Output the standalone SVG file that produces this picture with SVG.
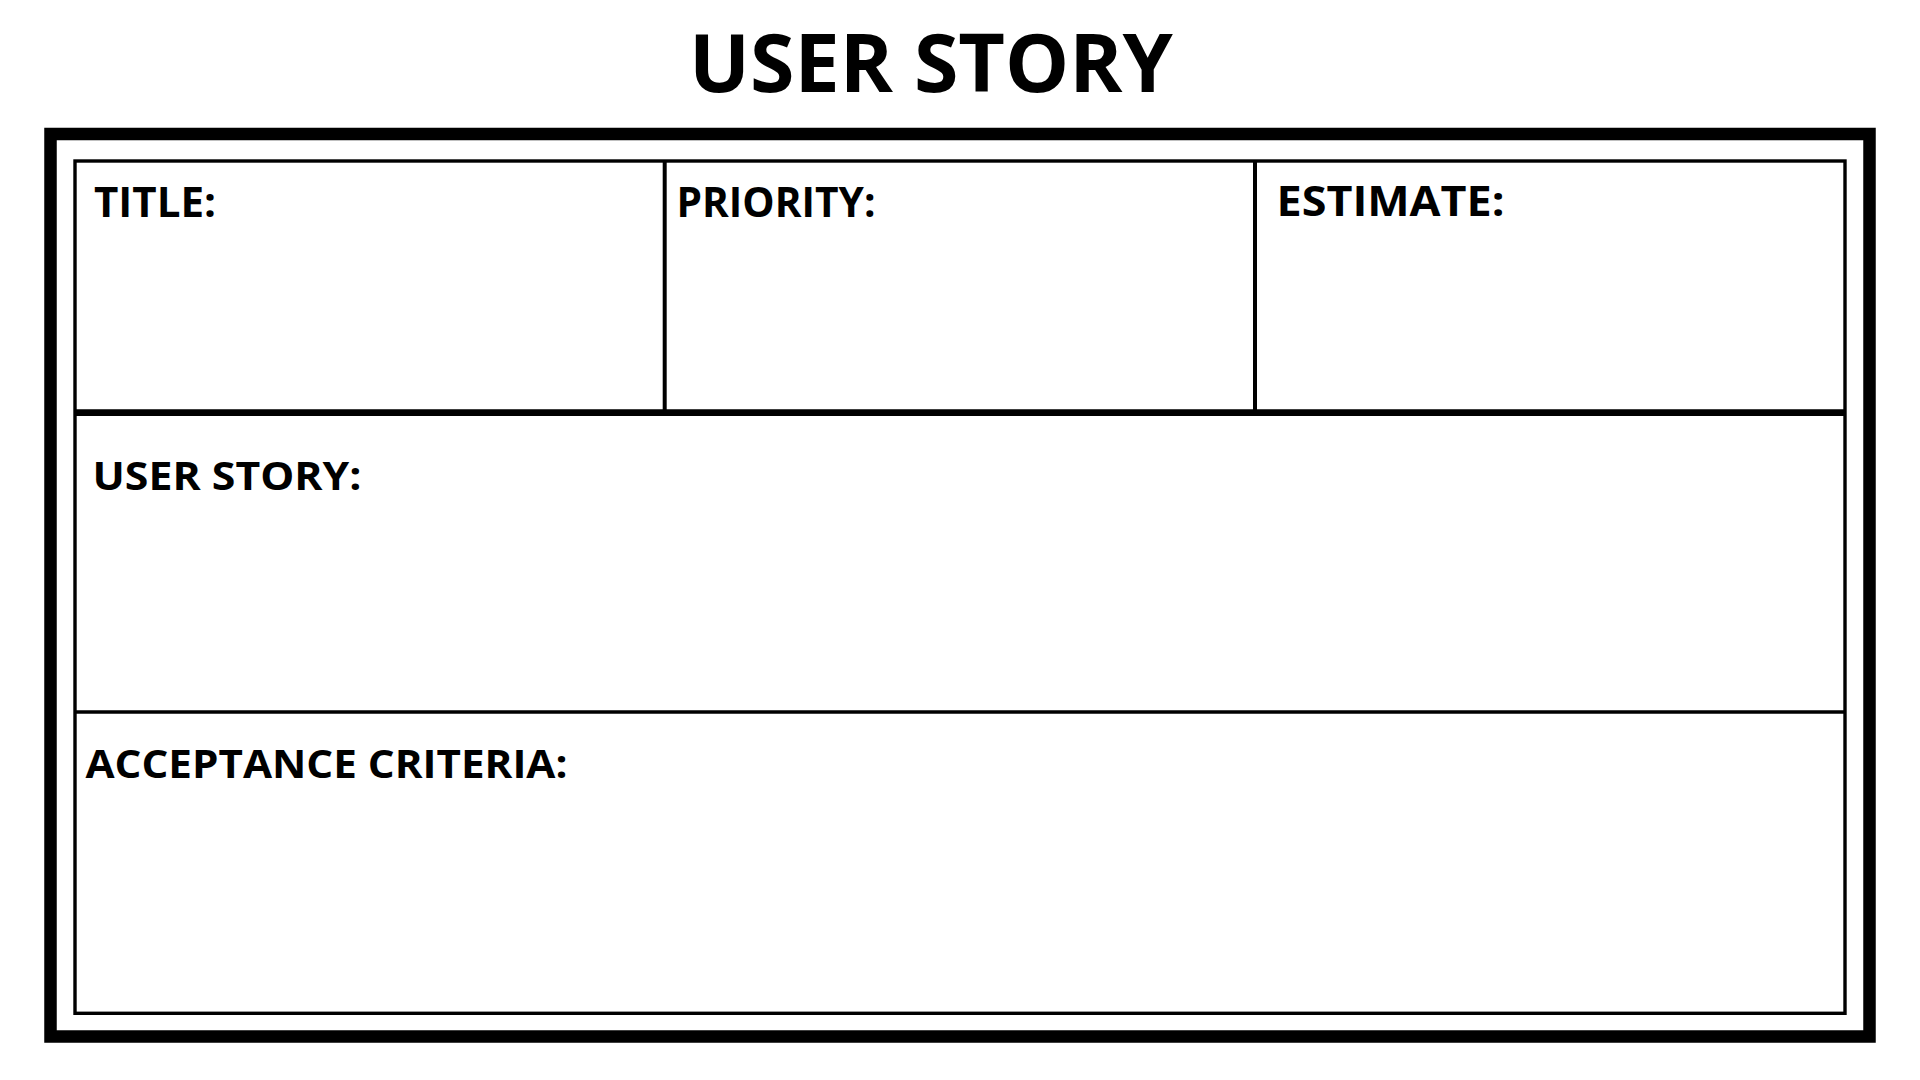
<svg xmlns="http://www.w3.org/2000/svg" width="1920" height="1080" viewBox="0 0 1920 1080">
<style>
.lbl{font-family:"Open Sans","Noto Sans","Liberation Sans",sans-serif;font-weight:700;font-size:42px;fill:#000}
.lbl2{font-family:"Open Sans","Noto Sans","Liberation Sans",sans-serif;font-weight:700;font-size:39px;fill:#000}
.ttl{font-family:"Open Sans","Noto Sans","Liberation Sans",sans-serif;font-weight:700;font-size:81px;fill:#000}
.ln{stroke:#000;fill:none}
</style>
<rect width="1920" height="1080" fill="#fff"/>
<text id="heading" class="ttl" x="689" y="91.7" textLength="484" lengthAdjust="spacingAndGlyphs">USER STORY</text>
<g id="frame">
<rect class="ln" x="50.5" y="134" width="1819" height="902.5" stroke-width="12.5"/>
<rect class="ln" x="75" y="161" width="1770" height="852.3" stroke-width="3.4"/>
</g>
<g id="grid">
<line class="ln" x1="75" y1="412.7" x2="1845" y2="412.7" stroke-width="6.7"/>
<line class="ln" x1="75" y1="712" x2="1845" y2="712" stroke-width="3.3"/>
<line class="ln" x1="664.7" y1="161" x2="664.7" y2="412.7" stroke-width="4"/>
<line class="ln" x1="1255" y1="161" x2="1255" y2="412.7" stroke-width="4"/>
</g>
<g id="title-cell"><text class="lbl" x="94" y="216.7" textLength="122" lengthAdjust="spacingAndGlyphs">TITLE:</text></g>
<g id="priority-cell"><text class="lbl" x="676.5" y="216.7" textLength="199" lengthAdjust="spacingAndGlyphs">PRIORITY:</text></g>
<g id="estimate-cell"><text class="lbl" x="1276.5" y="216" textLength="228" lengthAdjust="spacingAndGlyphs">ESTIMATE:</text></g>
<g id="user-story-cell"><text class="lbl2" x="92.5" y="490" textLength="269" lengthAdjust="spacingAndGlyphs">USER STORY:</text></g>
<g id="acceptance-cell"><text class="lbl2" x="85.5" y="778.3" textLength="482" lengthAdjust="spacingAndGlyphs">ACCEPTANCE CRITERIA:</text></g>
</svg>
